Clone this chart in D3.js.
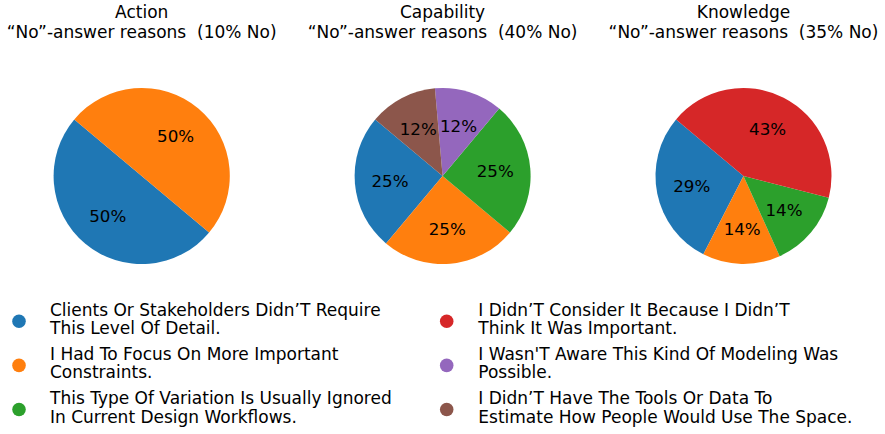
<!DOCTYPE html>
<html>
<head>
<meta charset="utf-8">
<script src="https://cdn.jsdelivr.net/npm/d3@7"></script>
<style>
  html, body { margin: 0; padding: 0; background: #fff; }
  svg { display: block; font-family: "DejaVu Sans", sans-serif; }
  svg text { white-space: pre; }
</style>
</head>
<body>
<svg id="chart" width="885" height="434"></svg>
<script>
// ---- data ----
const categories = [
  "Clients Or Stakeholders Didn’T Require|This Level Of Detail.",
  "I Had To Focus On More Important|Constraints.",
  "This Type Of Variation Is Usually Ignored|In Current Design Workflows.",
  "I Didn’T Consider It Because I Didn’T|Think It Was Important.",
  "I Wasn'T Aware This Kind Of Modeling Was|Possible.",
  "I Didn’T Have The Tools Or Data To|Estimate How People Would Use The Space."
];
const colors = ["#1f77b4", "#ff7f0e", "#2ca02c", "#d62728", "#9467bd", "#8c564b"];
const panelNames = ["Action", "Capability", "Knowledge"];
const noShare = [10, 40, 35];
const actionCounts = [1, 1, 0, 0, 0, 0];
const capabilityCounts = [2, 2, 2, 0, 1, 1];
const knowledgeCounts = [2, 1, 1, 3, 0, 0];
const panelCounts = [actionCounts, capabilityCounts, knowledgeCounts];

// ---- layout ----
const svg = d3.select("#chart");
const R = 88, cy = 176, cx0 = 141.7, dx = 300.9;
const startDeg = 140; // matplotlib startangle, counter-clockwise

function fmtPct(p) {
  // python-style round half to even
  const f = Math.floor(p), diff = p - f;
  let r;
  if (Math.abs(diff - 0.5) < 1e-9) r = (f % 2 === 0) ? f : f + 1;
  else r = Math.round(p);
  return r + "%";
}

const toRad = d => d * Math.PI / 180;
const pie = d3.pie().sort(null).value(d => d.v)
  .startAngle(toRad(90 - startDeg))
  .endAngle(toRad(90 - startDeg - 360));
const arc = d3.arc().innerRadius(0).outerRadius(R);
const labelArc = d3.arc().innerRadius(R * 0.6).outerRadius(R * 0.6);

panelCounts.forEach((counts, i) => {
  const cx = cx0 + i * dx;
  const items = counts.map((v, k) => ({ v, k })).filter(d => d.v > 0);
  const total = d3.sum(items, d => d.v);
  const g = svg.append("g").attr("transform", `translate(${cx},${cy})`);
  const arcs = pie(items);
  g.selectAll("path").data(arcs).enter().append("path")
    .attr("d", arc)
    .attr("fill", d => colors[d.data.k]);
  g.selectAll("text.pct").data(arcs).enter().append("text")
    .attr("class", "pct")
    .attr("transform", d => `translate(${labelArc.centroid(d)})`)
    .attr("text-anchor", "middle")
    .attr("dy", "0.36em")
    .attr("font-size", 16.7)
    .attr("fill", "#000")
    .text(d => fmtPct(d.data.v / total * 100));

  const t = svg.append("text").attr("text-anchor", "middle")
    .attr("font-size", 17).attr("fill", "#000")
    .attr("xml:space", "preserve");
  t.append("tspan").attr("x", cx).attr("y", 18.3).text(panelNames[i]);
  t.append("tspan").attr("x", cx).attr("y", 37.5)
    .text(`“No”-answer reasons  (${noShare[i]}% No)`);
});

// ---- legend (2 columns, filled column-wise) ----
const colX = [19, 446.7], textX = [50, 478.3];
const rowY0 = 321.3, rowStep = 44.1;
categories.forEach((label, k) => {
  const col = Math.floor(k / 3), row = k % 3;
  const y = rowY0 + row * rowStep;
  svg.append("circle").attr("cx", colX[col]).attr("cy", y).attr("r", 6.8)
    .attr("fill", colors[k]);
  const lines = label.split("|");
  const t = svg.append("text").attr("font-size", 17).attr("fill", "#000");
  t.append("tspan").attr("x", textX[col]).attr("y", y - 5.5).text(lines[0]);
  t.append("tspan").attr("x", textX[col]).attr("y", y + 13).text(lines[1]);
});
</script>
</body>
</html>
